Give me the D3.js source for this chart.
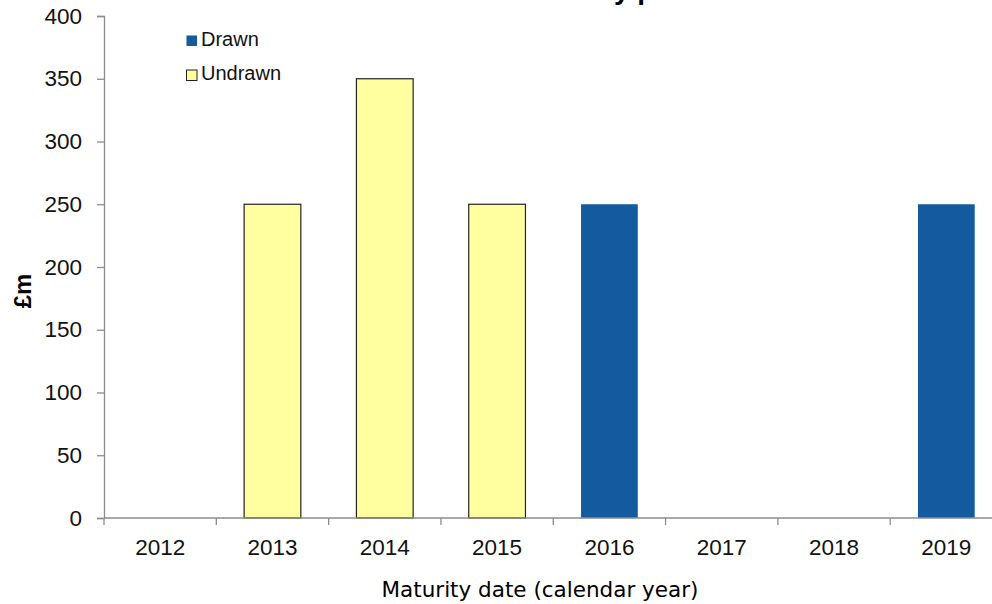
<!DOCTYPE html>
<html>
<head>
<meta charset="utf-8">
<script src="https://cdn.jsdelivr.net/npm/d3@7"></script>
<style>
  html, body { margin: 0; padding: 0; background: #fff; overflow: hidden; }
  svg { display: block; overflow: visible; }
</style>
</head>
<body>
<svg id="chart" width="992" height="604"></svg>
<script>
// Maturity profile: amounts (£m) falling due per calendar year
const years = ["2012", "2013", "2014", "2015", "2016", "2017", "2018", "2019"];
const drawn = [0, 0, 0, 0, 250, 0, 0, 250];
const undrawn = [0, 250, 350, 250, 0, 0, 0, 0];
const yTicks = [0, 50, 100, 150, 200, 250, 300, 350, 400];
const seriesNames = ["Drawn", "Undrawn"];

const colors = { Drawn: "#135a9e", Undrawn: "#ffff9f" };
const axisColor = "#8c8c8c";
const sans = "Liberation Sans, Arial, sans-serif";

const svg = d3.select("#chart");
const plotLeft = 104, plotRight = 1002.5, plotTop = 16, plotBottom = 518;

const x = d3.scaleBand().domain(years).range([plotLeft, plotRight]).padding(0);
const y = d3.scaleLinear().domain([0, 400]).range([plotBottom, plotTop]);
const barW = x.bandwidth() * 0.505;

// Title (runs off the top of the frame)
const title = svg.append("text")
  .attr("y", -1)
  .attr("font-family", sans)
  .attr("font-weight", "bold")
  .attr("font-size", 28)
  .attr("fill", "#000")
  .text("Debt maturity profile");
const yIdx = "Debt maturit".length;
const before = title.node().getSubStringLength(0, yIdx);
title.attr("x", 614 - before);

// Bars
const rows = years.map((yr, i) => ({ yr, Drawn: drawn[i], Undrawn: undrawn[i] }));
seriesNames.forEach(name => {
  svg.append("g").selectAll("rect")
    .data(rows.filter(d => d[name] > 0))
    .join("rect")
    .attr("x", d => x(d.yr) + (x.bandwidth() - barW) / 2)
    .attr("y", d => y(d[name]))
    .attr("width", barW)
    .attr("height", d => y(0) - y(d[name]))
    .attr("fill", colors[name])
    .attr("stroke", name === "Undrawn" ? "#222" : "none")
    .attr("stroke-width", name === "Undrawn" ? 1.2 : 0);
});

// Y axis
const yAxis = svg.append("g")
  .attr("transform", `translate(${plotLeft},0)`)
  .call(d3.axisLeft(y).tickValues(yTicks).tickSize(7).tickPadding(15).tickFormat(d3.format("d")));
yAxis.select(".domain").attr("stroke", axisColor).attr("stroke-width", 1.3);
yAxis.selectAll(".tick line").attr("stroke", axisColor).attr("stroke-width", 1.3);
yAxis.selectAll(".tick text")
  .attr("font-family", sans)
  .attr("font-size", 22.5)
  .attr("fill", "#111");

// X axis with ticks at category boundaries
const xg = svg.append("g").attr("transform", `translate(0,${plotBottom})`);
xg.append("line")
  .attr("x1", plotLeft).attr("x2", plotRight)
  .attr("stroke", axisColor).attr("stroke-width", 1.3);
const bounds = years.map(yr => x(yr)).concat([plotRight]);
xg.selectAll("line.tick")
  .data(bounds)
  .join("line")
  .attr("class", "tick")
  .attr("x1", d => d).attr("x2", d => d)
  .attr("y1", 0).attr("y2", 7)
  .attr("stroke", axisColor).attr("stroke-width", 1.3);
xg.selectAll("text")
  .data(years)
  .join("text")
  .attr("x", d => x(d) + x.bandwidth() / 2)
  .attr("y", 37)
  .attr("text-anchor", "middle")
  .attr("font-family", sans)
  .attr("font-size", 22.5)
  .attr("fill", "#111")
  .text(d => d);

// Axis titles
svg.append("text")
  .attr("x", 540).attr("y", 597)
  .attr("text-anchor", "middle")
  .attr("font-family", "DejaVu Sans, Verdana, sans-serif")
  .attr("font-size", 21.5)
  .attr("fill", "#000")
  .text("Maturity date (calendar year)");

svg.append("text")
  .attr("transform", "translate(31,291) rotate(-90)")
  .attr("text-anchor", "middle")
  .attr("font-family", sans)
  .attr("font-weight", "bold")
  .attr("font-size", 24)
  .attr("fill", "#000")
  .text("£m");

// Legend
const legend = svg.append("g").attr("transform", "translate(186,35)");
seriesNames.forEach((name, i) => {
  const g = legend.append("g").attr("transform", `translate(0,${i * 34.5})`);
  g.append("rect")
    .attr("x", 0.5).attr("y", 0.5)
    .attr("width", 10.5).attr("height", 10.5)
    .attr("fill", colors[name])
    .attr("stroke", name === "Undrawn" ? "#222" : "none");
  g.append("text")
    .attr("x", 15).attr("y", 10.5)
    .attr("font-family", sans)
    .attr("font-size", 20)
    .attr("fill", "#111")
    .text(name);
});
</script>
</body>
</html>
